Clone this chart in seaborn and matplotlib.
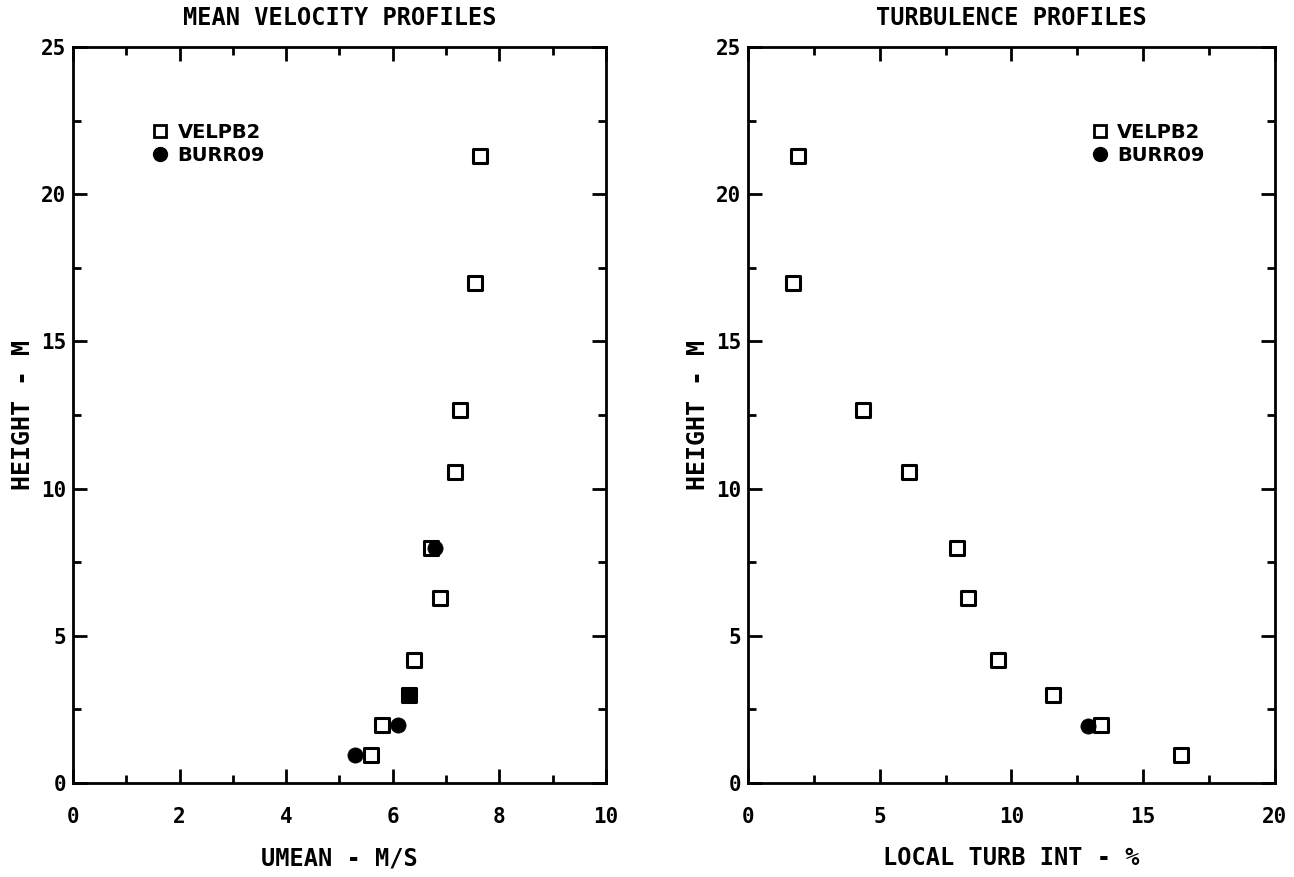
import matplotlib
matplotlib.use("Agg")
import matplotlib.pyplot as plt
import seaborn as sns
import pandas as pd
from matplotlib.lines import Line2D
from matplotlib.ticker import MultipleLocator

sns.set_theme(style="white")
plt.rcParams['font.family'] = ['DejaVu Sans Mono', 'DejaVu Sans']
plt.rcParams['text.color'] = 'black'
plt.rcParams['axes.labelcolor'] = 'black'
plt.rcParams['xtick.color'] = 'black'
plt.rcParams['ytick.color'] = 'black'

# ---- data ----
vel_height = [0.95, 1.97, 3.0, 4.18, 6.28, 7.98, 10.55, 12.67, 17.0, 21.3]
vel_umean = [5.59, 5.8, 6.3, 6.4, 6.89, 6.72, 7.17, 7.26, 7.54, 7.64]
vel_turb = [16.45, 13.4, 11.57, 9.5, 8.35, 7.93, 6.1, 4.36, 1.7, 1.9]

burr_height_u = [0.95, 1.97, 3.0, 7.98]
burr_umean = [5.29, 6.1, 6.3, 6.8]
burr_height_t = [1.95]
burr_turb = [12.9]

series_names = ["VELPB2", "BURR09"]

df_u = pd.DataFrame({
    "x": vel_umean + burr_umean,
    "h": vel_height + burr_height_u,
    "series": [series_names[0]] * len(vel_umean) + [series_names[1]] * len(burr_umean),
})
df_t = pd.DataFrame({
    "x": vel_turb + burr_turb,
    "h": vel_height + burr_height_t,
    "series": [series_names[0]] * len(vel_turb) + [series_names[1]] * len(burr_turb),
})

fig = plt.figure(figsize=(12.94, 8.77), dpi=100)
ax1 = fig.add_axes([0.0564, 0.1072, 0.4119, 0.8392])
ax2 = fig.add_axes([0.578, 0.1072, 0.4073, 0.8392])

def draw(ax, df):
    v = df[df.series == series_names[0]]
    b = df[df.series == series_names[1]]
    sns.scatterplot(data=v, x="x", y="h", ax=ax, marker="s", s=95,
                    facecolor="white", edgecolor="black", linewidth=2.2, zorder=3)
    sns.scatterplot(data=b, x="x", y="h", ax=ax, marker="o", s=120,
                    color="black", edgecolor="black", linewidth=0.5, zorder=4)

draw(ax1, df_u)
draw(ax2, df_t)

legend_font = dict(family=["DejaVu Sans"], size=14, weight="bold")

for ax, xmax, xmaj, xmin, title, xlabel in [
        (ax1, 10, 2, 1, "MEAN VELOCITY PROFILES", "UMEAN - M/S"),
        (ax2, 20, 5, 2.5, "TURBULENCE PROFILES", "LOCAL TURB INT - %")]:
    ax.set_xlim(0, xmax)
    ax.set_ylim(0, 25)
    ax.xaxis.set_major_locator(MultipleLocator(xmaj))
    ax.xaxis.set_minor_locator(MultipleLocator(xmin))
    ax.yaxis.set_major_locator(MultipleLocator(5))
    ax.yaxis.set_minor_locator(MultipleLocator(2.5))
    ax.tick_params(which="both", direction="in", top=True, right=True,
                   bottom=True, left=True, color="black", width=2)
    ax.tick_params(which="major", length=10, labelsize=15)
    ax.tick_params(axis="x", which="major", pad=17)
    ax.tick_params(axis="y", which="major", pad=5)
    ax.tick_params(which="minor", length=6)
    for lab in ax.get_xticklabels() + ax.get_yticklabels():
        lab.set_fontweight("bold")
    for sp in ax.spines.values():
        sp.set_color("black")
        sp.set_linewidth(2)
    ax.set_title(title, fontsize=17, fontweight="bold", pad=16)
    ax.set_xlabel(xlabel, fontsize=17, fontweight="bold", labelpad=14)
    ax.set_ylabel("HEIGHT - M", fontsize=18, fontweight="bold", labelpad=4)
    ax.grid(False)
    handles = [
        Line2D([], [], marker="s", linestyle="none", markersize=8,
               markerfacecolor="white", markeredgecolor="black", markeredgewidth=2),
        Line2D([], [], marker="o", linestyle="none", markersize=10,
               markerfacecolor="black", markeredgecolor="black"),
    ]
    bbox = (0.1125, 0.921) if ax is ax1 else (0.616, 0.921)
    ax.legend(handles, series_names, loc="upper left", bbox_to_anchor=bbox,
              frameon=False, handletextpad=0.4, labelspacing=0.2,
              handlelength=1.0, prop=legend_font)

fig.savefig("out.png", dpi=100, facecolor="white")
